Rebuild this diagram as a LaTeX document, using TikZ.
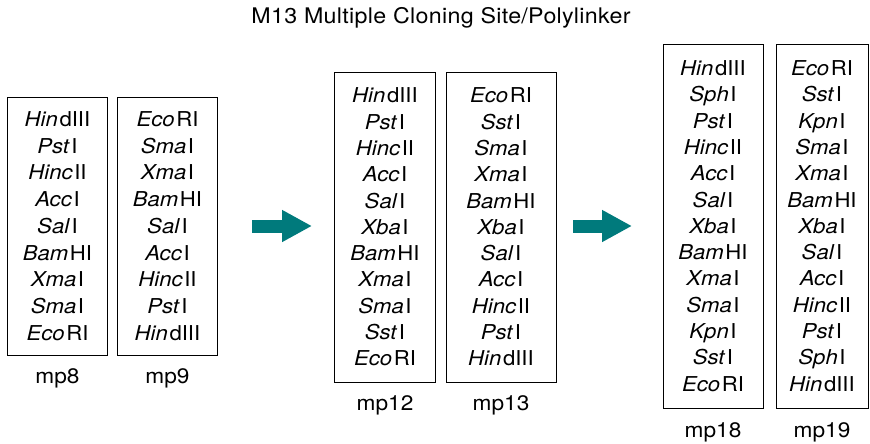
\documentclass[tikz,border=0pt]{standalone}
\usepackage{fontspec}
\setmainfont[FakeStretch=1.08]{TeX Gyre Heros}
\usetikzlibrary{arrows.meta}
\definecolor{tealarrow}{RGB}{0,122,124}
\newcommand{\enz}[2]{{\itshape #1\/}\kern1.6pt #2}
\begin{document}
\begin{tikzpicture}[x=1pt,y=-1pt,
  site/.style={draw, line width=0.9pt, inner sep=0pt, align=center,
    font=\fontsize{20.5}{26.3}\selectfont},
  sitewide/.style={site, font=\fontsize{20.5}{26.75}\selectfont},
  lbl/.style={font=\fontsize{21}{24}\selectfont, inner sep=0pt},
  ttl/.style={font=\fontsize{21.5}{24}\selectfont\addfontfeatures{LetterSpace=1.5}, inner sep=0pt},
  bigarrow/.style={draw=tealarrow, line width=13pt,
    -{Triangle[length=30pt,width=30pt,fill=tealarrow]}}]
\useasboundingbox (0,0) rectangle (870,444);

\node[ttl] (title) at (441,18) {M13 Multiple Cloning Site/Polylinker};

\node[sitewide, minimum width=100pt, minimum height=258pt] (b8) at (57.5,226)
 {\enz{Hin}{dIII}\\ \enz{Pst}{I}\\ \enz{Hinc}{II}\\ \enz{Acc}{I}\\ \enz{Sal}{I}\\
  \enz{Bam}{HI}\\ \enz{Xma}{I}\\ \enz{Sma}{I}\\ \enz{Eco}{RI}};
\node[sitewide, minimum width=100pt, minimum height=258pt] (b9) at (167.5,226)
 {\enz{Eco}{RI}\\ \enz{Sma}{I}\\ \enz{Xma}{I}\\ \enz{Bam}{HI}\\ \enz{Sal}{I}\\
  \enz{Acc}{I}\\ \enz{Hinc}{II}\\ \enz{Pst}{I}\\ \enz{Hin}{dIII}};

\node[site, minimum width=101pt, minimum height=310pt] (b12) at (385,227)
 {\enz{Hin}{dIII}\\ \enz{Pst}{I}\\ \enz{Hinc}{II}\\ \enz{Acc}{I}\\ \enz{Sal}{I}\\
  \enz{Xba}{I}\\ \enz{Bam}{HI}\\ \enz{Xma}{I}\\ \enz{Sma}{I}\\ \enz{Sst}{I}\\ \enz{Eco}{RI}};
\node[site, minimum width=110pt, minimum height=310pt] (b13) at (501,227)
 {\enz{Eco}{RI}\\ \enz{Sst}{I}\\ \enz{Sma}{I}\\ \enz{Xma}{I}\\ \enz{Bam}{HI}\\
  \enz{Xba}{I}\\ \enz{Sal}{I}\\ \enz{Acc}{I}\\ \enz{Hinc}{II}\\ \enz{Pst}{I}\\ \enz{Hin}{dIII}};

\node[site, minimum width=100pt, minimum height=364pt] (b18) at (713,226)
 {\enz{Hin}{dIII}\\ \enz{Sph}{I}\\ \enz{Pst}{I}\\ \enz{Hinc}{II}\\ \enz{Acc}{I}\\
  \enz{Sal}{I}\\ \enz{Xba}{I}\\ \enz{Bam}{HI}\\ \enz{Xma}{I}\\ \enz{Sma}{I}\\
  \enz{Kpn}{I}\\ \enz{Sst}{I}\\ \enz{Eco}{RI}};
\node[site, minimum width=92pt, minimum height=364pt] (b19) at (822,226)
 {\enz{Eco}{RI}\\ \enz{Sst}{I}\\ \enz{Kpn}{I}\\ \enz{Sma}{I}\\ \enz{Xma}{I}\\
  \enz{Bam}{HI}\\ \enz{Xba}{I}\\ \enz{Sal}{I}\\ \enz{Acc}{I}\\ \enz{Hinc}{II}\\
  \enz{Pst}{I}\\ \enz{Sph}{I}\\ \enz{Hin}{dIII}};

\node[lbl] (l8) at (57.5,378) {mp8};
\node[lbl] (l9) at (167.5,378) {mp9};
\node[lbl] (l12) at (385,405) {mp12};
\node[lbl] (l13) at (501,405) {mp13};
\node[lbl] (l18) at (713,432) {mp18};
\node[lbl] (l19) at (822,432) {mp19};

\coordinate (a1s) at (252,226);
\coordinate (a1e) at (312,226);
\coordinate (a2s) at (573,226);
\coordinate (a2e) at (632,226);
\draw[bigarrow] (a1s) -- (a1e);
\draw[bigarrow] (a2s) -- (a2e);
\end{tikzpicture}
\end{document}
